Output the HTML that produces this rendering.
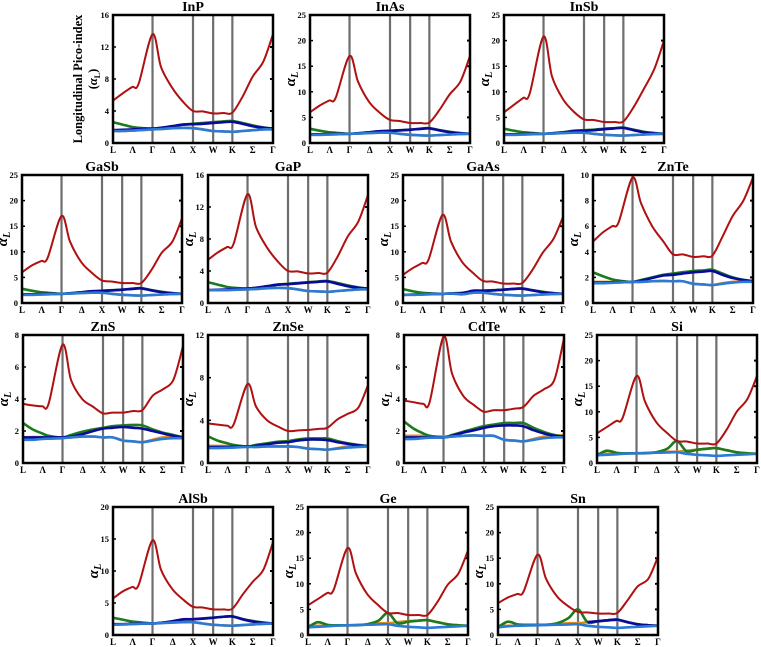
<!DOCTYPE html>
<html><head><meta charset="utf-8"><style>
body{margin:0;background:#fff;}
svg{display:block;font-family:"Liberation Serif",serif;}
</style></head><body>
<svg id="fig" width="761" height="647" viewBox="0 0 761 647"></svg>
<script>
const kpos = [0,0.06,0.12,0.16,0.247,0.30,0.37,0.44,0.50,0.56,0.626,0.69,0.746,0.81,0.873,0.94,1];
const kLabels = ["L","Λ","Γ","Δ","X","W","K","Σ","Γ"];
const kLabelPos = [0,0.123,0.247,0.374,0.5,0.626,0.746,0.873,1];
const kLines = [0.247,0.5,0.626,0.746];

const inpRed=[5.3,6.2,7.0,7.4,13.6,9.5,6.9,5.1,4.0,3.95,3.7,3.75,3.8,5.8,8.3,10.2,13.6];
const inpGreen=[2.6,2.3,2.0,1.9,1.8,1.9,2.1,2.3,2.4,2.5,2.6,2.7,2.75,2.5,2.2,1.95,1.8];
const inpDblue=[1.6,1.65,1.7,1.75,1.8,1.9,2.1,2.3,2.35,2.4,2.5,2.6,2.65,2.4,2.1,1.9,1.8];
const inpLblue=[1.5,1.5,1.55,1.6,1.7,1.75,1.85,1.9,1.85,1.7,1.5,1.45,1.4,1.5,1.6,1.7,1.7];
const inpOrange=[1.5,1.5,1.55,1.6,1.7,1.75,1.85,1.9,1.85,1.7,1.5,1.45,1.4,1.5,1.6,1.7,1.7];

const inasRed=[6.0,7.3,8.3,8.8,17,12,8.0,5.8,4.5,4.3,3.9,3.9,4.0,6.5,9.5,12,17];
const inasGreen=[2.8,2.4,2.1,2.0,1.8,1.9,2.1,2.3,2.4,2.5,2.6,2.8,2.9,2.5,2.2,1.95,1.8];
const inasDblue=[1.7,1.7,1.75,1.8,1.8,1.9,2.1,2.3,2.35,2.45,2.6,2.75,2.85,2.45,2.1,1.9,1.8];
const inasLblue=[1.6,1.6,1.65,1.7,1.8,1.85,1.95,2.0,2.0,1.8,1.6,1.5,1.45,1.55,1.65,1.75,1.8];
const inasOrange=[1.6,1.6,1.65,1.7,1.8,1.85,1.95,2.0,2.0,1.8,1.6,1.5,1.45,1.55,1.65,1.75,1.8];

const insbRed=[6.0,7.4,8.8,9.6,20.8,13,8.5,6.0,4.6,4.5,4.1,4.1,4.2,7.0,10.5,14.5,20];
const insbGreen=[2.8,2.4,2.1,2.0,1.8,1.9,2.1,2.4,2.5,2.6,2.8,2.9,3.0,2.6,2.2,1.95,1.8];
const insbDblue=[1.7,1.7,1.75,1.8,1.8,1.9,2.1,2.3,2.4,2.5,2.7,2.85,2.95,2.5,2.1,1.9,1.8];
const insbLblue=[1.6,1.6,1.65,1.7,1.8,1.85,1.95,2.0,2.0,1.8,1.6,1.5,1.45,1.55,1.65,1.75,1.8];
const insbOrange=[1.6,1.6,1.65,1.7,1.8,1.85,1.95,2.0,2.0,1.8,1.6,1.5,1.45,1.55,1.65,1.75,1.8];

const gasbRed=[6.0,7.3,8.2,8.8,17,12,8.0,5.8,4.4,4.2,3.9,3.9,3.9,6.5,9.8,12,16.5];
const gasbGreen=[2.8,2.4,2.1,2.0,1.8,1.9,2.1,2.3,2.4,2.5,2.6,2.8,2.9,2.5,2.2,1.95,1.8];
const gasbDblue=[1.7,1.7,1.75,1.8,1.8,1.9,2.1,2.3,2.35,2.45,2.6,2.75,2.85,2.45,2.1,1.9,1.8];
const gasbLblue=[1.6,1.6,1.65,1.7,1.8,1.85,1.95,2.0,2.0,1.8,1.6,1.5,1.45,1.55,1.65,1.75,1.8];
const gasbOrange=[1.6,1.6,1.65,1.7,1.8,1.85,1.95,2.0,2.0,1.8,1.6,1.5,1.45,1.55,1.65,1.75,1.8];

const gapRed=[5.4,6.3,7.0,7.4,13.6,9.5,6.9,5.1,4.0,3.95,3.7,3.75,3.8,5.8,8.3,10.2,13.5];
const gapGreen=[2.6,2.3,2.0,1.9,1.8,1.9,2.1,2.3,2.4,2.5,2.6,2.7,2.75,2.5,2.2,1.95,1.8];
const gapDblue=[1.6,1.65,1.7,1.75,1.8,1.9,2.1,2.3,2.35,2.45,2.55,2.65,2.7,2.4,2.1,1.9,1.8];
const gapLblue=[1.6,1.6,1.62,1.65,1.7,1.75,1.85,1.9,1.85,1.7,1.5,1.45,1.4,1.5,1.6,1.7,1.7];
const gapOrange=[1.6,1.6,1.62,1.65,1.7,1.75,1.85,1.9,1.85,1.7,1.5,1.45,1.4,1.5,1.6,1.7,1.7];

const gaasRed=[5.5,6.8,7.8,8.5,17.2,12,8.0,5.8,4.3,4.2,3.8,3.8,3.9,6.5,9.8,12.5,16.8];
const gaasGreen=[2.7,2.3,2.0,1.9,1.8,1.9,2.0,2.3,2.4,2.5,2.6,2.75,2.85,2.5,2.2,1.95,1.8];
const gaasDblue=[1.6,1.65,1.7,1.75,1.8,1.85,1.9,2.4,2.4,2.45,2.6,2.75,2.8,2.45,2.1,1.9,1.8];
const gaasLblue=[1.6,1.6,1.65,1.7,1.8,1.85,1.7,2.0,2.0,1.8,1.6,1.5,1.45,1.55,1.65,1.75,1.8];
const gaasOrange=[1.6,1.6,1.65,1.7,1.8,1.85,1.7,2.0,2.0,1.8,1.6,1.5,1.45,1.55,1.65,1.75,1.8];

const zntePRed=[4.8,5.5,6.0,6.3,9.8,7.8,6.0,4.8,3.8,3.8,3.6,3.65,3.7,5.2,6.8,8.0,9.8];
const znteGreen=[2.4,2.1,1.85,1.75,1.65,1.8,2.0,2.2,2.3,2.4,2.5,2.55,2.6,2.3,2.0,1.8,1.7];
const znteDblue=[1.6,1.6,1.62,1.63,1.65,1.75,1.95,2.15,2.2,2.3,2.4,2.45,2.5,2.2,1.95,1.8,1.7];
const znteLblue=[1.55,1.55,1.58,1.6,1.65,1.65,1.7,1.72,1.7,1.7,1.5,1.45,1.4,1.5,1.6,1.65,1.65];
const znteOrange=[1.65,1.65,1.65,1.65,1.65,1.65,1.7,1.72,1.7,1.7,1.5,1.45,1.4,1.55,1.65,1.7,1.7];

const znsRed=[3.7,3.6,3.55,3.7,7.4,5.2,4.0,3.5,3.1,3.15,3.15,3.25,3.3,4.2,4.6,5.2,7.3];
const znsGreen=[2.5,2.1,1.85,1.7,1.6,1.75,1.95,2.1,2.2,2.3,2.35,2.38,2.35,2.1,1.9,1.75,1.6];
const znsDblue=[1.6,1.6,1.6,1.6,1.6,1.65,1.8,2.0,2.15,2.2,2.25,2.2,2.15,2.0,1.85,1.7,1.6];
const znsLblue=[1.45,1.45,1.5,1.52,1.55,1.6,1.65,1.65,1.6,1.6,1.4,1.35,1.3,1.4,1.5,1.55,1.55];
const znsOrange=[1.6,1.62,1.62,1.62,1.6,1.6,1.65,1.65,1.6,1.6,1.4,1.35,1.3,1.45,1.6,1.64,1.64];

const znseRed=[3.7,3.6,3.5,3.6,7.4,5.3,4.0,3.4,3.0,3.05,3.1,3.2,3.3,4.1,4.6,5.2,7.3];
const znseGreen=[2.5,2.1,1.85,1.7,1.55,1.7,1.85,2.0,2.05,2.2,2.3,2.3,2.3,2.05,1.85,1.7,1.6];
const znseDblue=[1.5,1.5,1.5,1.52,1.55,1.6,1.75,1.9,1.95,2.1,2.2,2.2,2.15,1.95,1.8,1.65,1.6];
const znseLblue=[1.4,1.4,1.42,1.45,1.5,1.5,1.55,1.55,1.55,1.5,1.35,1.3,1.25,1.35,1.45,1.5,1.55];
const znseOrange=[1.6,1.6,1.6,1.6,1.55,1.5,1.55,1.55,1.55,1.5,1.35,1.3,1.25,1.4,1.55,1.6,1.6];

const cdteRed=[3.9,3.8,3.7,3.8,7.9,5.6,4.2,3.6,3.2,3.3,3.3,3.4,3.5,4.2,4.6,5.2,7.8];
const cdteGreen=[2.6,2.15,1.85,1.7,1.6,1.75,1.95,2.15,2.3,2.4,2.5,2.5,2.5,2.2,1.95,1.75,1.65];
const cdteDblue=[1.6,1.6,1.6,1.6,1.6,1.7,1.9,2.05,2.2,2.3,2.35,2.35,2.3,2.05,1.85,1.7,1.65];
const cdteLblue=[1.5,1.5,1.55,1.58,1.6,1.65,1.7,1.72,1.7,1.7,1.45,1.4,1.35,1.45,1.55,1.6,1.6];
const cdteOrange=[1.7,1.7,1.7,1.68,1.65,1.65,1.7,1.72,1.7,1.7,1.45,1.4,1.35,1.5,1.65,1.72,1.72];

const siRed=[5.8,7.0,8.2,8.8,17,12,8.0,5.8,4.3,4.2,3.8,3.8,3.8,6.5,10,12.5,17];
const siGreen=[1.5,2.4,2.0,1.9,1.9,1.9,2.1,2.8,4.3,2.3,2.6,2.8,2.9,2.5,2.1,1.9,1.8];
const siDblue=[null,null,null,null,null,null,null,null,null,null,null,null,null,null,null,null,null];
const siLblue=[1.5,1.6,1.7,1.8,1.9,1.95,2.0,2.05,2.1,1.8,1.6,1.5,1.4,1.5,1.6,1.7,1.8];
const siOrange=[1.8,1.8,1.85,1.9,1.9,1.95,2.1,2.2,2.2,2.4,2.6,2.8,2.9,2.5,2.1,1.9,1.8];

const alsbRed=[5.7,6.8,7.5,7.8,14.8,10.2,7.2,5.5,4.4,4.3,4.0,4.0,4.1,6.3,8.3,10.2,14.5];
const alsbGreen=[2.7,2.4,2.1,2.0,1.8,1.9,2.1,2.4,2.5,2.6,2.7,2.85,2.9,2.5,2.2,1.95,1.8];
const alsbDblue=[1.7,1.7,1.75,1.8,1.8,1.9,2.15,2.45,2.45,2.55,2.7,2.85,2.9,2.45,2.1,1.9,1.8];
const alsbLblue=[1.6,1.65,1.7,1.75,1.8,1.85,1.95,2.0,2.0,1.8,1.6,1.5,1.45,1.55,1.65,1.75,1.8];
const alsbOrange=[1.6,1.65,1.7,1.75,1.8,1.85,1.95,2.0,2.0,1.8,1.6,1.5,1.45,1.55,1.65,1.75,1.8];

const geRed=[5.8,7.0,8.2,8.8,17,12,8.0,5.8,4.3,4.3,3.9,3.9,3.9,6.5,9.8,12,16.5];
const geGreen=[1.5,2.5,2.0,1.9,1.9,1.9,2.1,2.8,4.3,2.3,2.6,2.8,2.9,2.5,2.1,1.9,1.8];
const geDblue=[null,null,null,null,null,null,null,null,null,null,null,null,null,null,null,null,null];
const geLblue=[1.5,1.6,1.7,1.8,1.9,1.95,2.0,2.05,2.1,1.8,1.6,1.5,1.4,1.5,1.6,1.7,1.8];
const geOrange=[1.8,1.8,1.85,1.9,1.9,1.95,2.1,2.3,2.3,2.5,2.7,2.8,2.9,2.5,2.1,1.9,1.8];

const snRed=[6.2,7.3,8.0,8.5,15.7,11,7.5,5.6,4.5,4.4,4.2,4.2,4.3,6.8,9.5,11,15.3];
const snGreen=[1.5,2.6,2.1,2.0,2.0,2.0,2.3,3.3,5.0,2.5,2.7,2.9,3.0,2.5,2.1,1.9,1.8];
const snDblue=[null,null,null,null,null,null,null,null,null,2.5,2.7,2.9,3.0,2.5,2.1,1.9,1.8];
const snLblue=[1.5,1.7,1.8,1.85,1.9,1.95,2.0,2.05,2.1,1.8,1.6,1.5,1.4,1.5,1.6,1.7,1.8];
const snOrange=[1.8,1.8,1.85,1.9,1.95,2.0,2.1,2.3,2.3,2.5,2.7,2.8,2.9,2.5,2.1,1.9,1.8];

const materials = ["InP","InAs","InSb","GaSb","GaP","GaAs","ZnTe","ZnS","ZnSe","CdTe","Si","AlSb","Ge","Sn"];
const yMaxes = [16,25,25,25,16,25,10,8,12,8,25,20,25,25];
const ySteps = [4,5,5,5,4,5,2,2,4,2,5,5,5,5];
const redSeries=[inpRed,inasRed,insbRed,gasbRed,gapRed,gaasRed,zntePRed,znsRed,znseRed,cdteRed,siRed,alsbRed,geRed,snRed];
const greenSeries=[inpGreen,inasGreen,insbGreen,gasbGreen,gapGreen,gaasGreen,znteGreen,znsGreen,znseGreen,cdteGreen,siGreen,alsbGreen,geGreen,snGreen];
const dblueSeries=[inpDblue,inasDblue,insbDblue,gasbDblue,gapDblue,gaasDblue,znteDblue,znsDblue,znseDblue,cdteDblue,siDblue,alsbDblue,geDblue,snDblue];
const lblueSeries=[inpLblue,inasLblue,insbLblue,gasbLblue,gapLblue,gaasLblue,znteLblue,znsLblue,znseLblue,cdteLblue,siLblue,alsbLblue,geLblue,snLblue];
const orangeSeries=[inpOrange,inasOrange,insbOrange,gasbOrange,gapOrange,gaasOrange,znteOrange,znsOrange,znseOrange,cdteOrange,siOrange,alsbOrange,geOrange,snOrange];

// layout (not data)
const panelX=[113,310,504,22,208,403,593,23,208,404,597,113,308,498];
const panelY=[15,15,15,175,175,175,175,335,335,335,335,507,507,507];
const PW=160, PH=128;

const NS="http://www.w3.org/2000/svg";
const svg=document.getElementById('fig');
function mk(tag,attrs,parent){const e=document.createElementNS(NS,tag);for(const k in attrs)e.setAttribute(k,attrs[k]);(parent||svg).appendChild(e);return e;}

function smoothPath(pts){
  let d="M"+pts[0][0].toFixed(2)+","+pts[0][1].toFixed(2);
  for(let i=0;i<pts.length-1;i++){
    const p0=pts[i-1]||pts[i],p1=pts[i],p2=pts[i+1],p3=pts[i+2]||pts[i+1];
    const t=0.16;
    const c1=[p1[0]+(p2[0]-p0[0])*t,p1[1]+(p2[1]-p0[1])*t];
    const c2=[p2[0]-(p3[0]-p1[0])*t,p2[1]-(p3[1]-p1[1])*t];
    d+=" C"+c1[0].toFixed(2)+","+c1[1].toFixed(2)+" "+c2[0].toFixed(2)+","+c2[1].toFixed(2)+" "+p2[0].toFixed(2)+","+p2[1].toFixed(2);
  }
  return d;
}

materials.forEach((m,i)=>{
  const x0=panelX[i],y0=panelY[i],ymax=yMaxes[i],step=ySteps[i];
  const sx=f=>x0+f*PW;
  const sy=v=>y0+PH-(v/ymax)*PH;
  const g=mk('g',{});
  
  
  const t=mk('text',{x:x0+PW/2,y:y0-4,'text-anchor':'middle','font-size':'14','font-weight':'bold'},g);
  t.textContent=m;
  
  
  for(let v=0;v<=ymax+1e-9;v+=step){
    const yl=mk('text',{x:x0-4,y:sy(v)+3,'text-anchor':'end','font-size':'8.5','font-weight':'bold'},g);
    yl.textContent=String(v);
    
    
    mk('line',{x1:x0+PW-3,x2:x0+PW,y1:sy(v),y2:sy(v),stroke:'#000','stroke-width':'2'},g);
    mk('line',{x1:x0,x2:x0+3,y1:sy(v),y2:sy(v),stroke:'#000','stroke-width':'1.5'},g);
  }
  kLabels.forEach((lb,j)=>{
    const xl=mk('text',{x:sx(kLabelPos[j]),y:y0+PH+10,'text-anchor':'middle','font-size':'9','font-weight':'bold'},g);
    xl.textContent=lb;
    
    
  });
  kLines.forEach(f=>{
    const vl=mk('line',{x1:sx(f),x2:sx(f),y1:y0,y2:y0+PH,stroke:'#6e6e6e','stroke-width':'2.2'},g);
    
    
  });
  if(i===0){
    const a=mk('text',{transform:`translate(${x0-31},${y0+PH/2}) rotate(-90)`,'text-anchor':'middle','font-size':'12.5','font-weight':'bold'},g);
    a.textContent='Longitudinal Pico-index';
    
    
    const b=mk('text',{transform:`translate(${x0-16},${y0+PH/2}) rotate(-90)`,'text-anchor':'middle','font-size':'12.5','font-weight':'bold'},g);
    b.innerHTML='(<tspan font-style="italic">α</tspan><tspan font-size="8" dy="3">L</tspan><tspan dy="-3">)</tspan>';
    
    
  } else {
    const a=mk('text',{transform:`translate(${x0-15},${y0+PH/2}) rotate(-90)`,'text-anchor':'middle','font-size':'15','font-weight':'bold','font-style':'italic'},g);
    a.innerHTML='α<tspan font-size="10" dy="3">L</tspan>';
    
    
  }
  const clipId='c'+i;
  const cp=mk('clipPath',{id:clipId},g);
  mk('rect',{x:x0,y:y0,width:PW,height:PH},cp);
  const series=[[orangeSeries[i],'#e08a1c','orange-curve'],[greenSeries[i],'#1d7a1d','green-curve'],[dblueSeries[i],'#0a0a9a','dark-blue-curve'],[lblueSeries[i],'#2a7bd6','light-blue-curve'],[redSeries[i],'#b01010','red-curve']];
  series.forEach(([vals,col,nm])=>{
    let seg=[];
    const segs=[];
    vals.forEach((v,k)=>{ if(v==null){ if(seg.length>1)segs.push(seg); seg=[]; } else seg.push([sx(kpos[k]),sy(v)]); });
    if(seg.length>1)segs.push(seg);
    segs.forEach(s=>{
      const p=mk('path',{d:smoothPath(s),fill:'none',stroke:col,'stroke-width':nm==='red-curve'?'2':'2.6','clip-path':`url(#${clipId})`,'stroke-linejoin':'round'},g);
      
      
    });
  });
  const fr=mk('rect',{x:x0,y:y0,width:PW,height:PH,fill:'none',stroke:'#000','stroke-width':'2.5'},g);
  
  
});
</script>
</body></html>
